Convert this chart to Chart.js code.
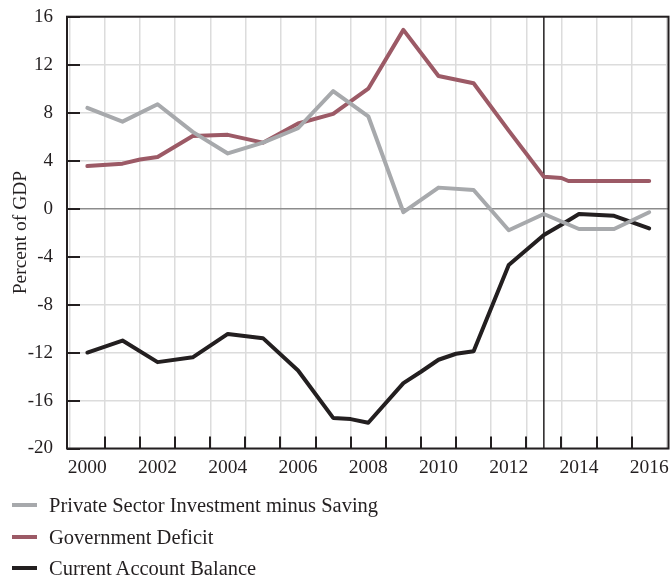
<!DOCTYPE html>
<html><head><meta charset="utf-8">
<script src="https://cdn.jsdelivr.net/npm/chart.js@4/dist/chart.umd.min.js"></script>
<style>
html,body{margin:0;padding:0;background:#fff;}
#wrap{position:relative;width:672px;height:577px;overflow:hidden;}
canvas{position:absolute;left:0;top:0;}
#legend{position:absolute;left:0;top:0;font-family:"Liberation Serif","Times New Roman",serif;font-size:20.5px;color:#231f20;}
.item{position:absolute;left:0;height:30px;display:flex;align-items:center;white-space:nowrap;}
.sw{width:25px;height:4px;margin-left:12px;margin-right:12px;}
</style></head><body>
<div id="wrap"><canvas id="c" width="672" height="577"></canvas><div id="legend"></div></div>
<script>
// x positions (mid-year points plus a few intermediate vertices)
const years = [2000.5, 2001.5, 2002.0, 2002.5, 2003.5, 2004.5, 2005.5, 2006.5, 2007.5, 2008.0, 2008.5,
               2009.5, 2010.0, 2010.5, 2011.0, 2011.5, 2012.5, 2013.5, 2014.0, 2014.2, 2014.5, 2015.5, 2016.5];
const privateSector = [8.4, 7.25, null, 8.7, 6.4, 4.6, 5.5, 6.7, 9.8, null, 7.7,
                       -0.3, null, 1.75, null, 1.55, -1.8, -0.45, null, null, -1.7, -1.7, -0.3];
const govDeficit = [3.55, 3.75, 4.1, 4.3, 6.05, 6.15, 5.5, 7.1, 7.9, null, 10.0,
                    14.9, null, 11.05, null, 10.45, 6.5, 2.65, 2.55, 2.3, 2.3, 2.3, 2.3];
const currentAccount = [-12.0, -11.0, null, -12.8, -12.4, -10.45, -10.8, -13.5, -17.45, -17.55, -17.85,
                        -14.55, -13.6, -12.6, -12.1, -11.9, -4.7, -2.2, -1.35, null, -0.45, -0.6, -1.65];
const seriesLabels = ['Private Sector Investment minus Saving', 'Government Deficit', 'Current Account Balance'];
const xTickLabels = ['2000', '2002', '2004', '2006', '2008', '2010', '2012', '2014', '2016'];
const yTicks = [-20, -16, -12, -8, -4, 0, 4, 8, 12, 16];
const markerYear = 2013.5;

const INK = '#231f20';
const colors = ['#a7a9ac', '#9c5a66', INK];
const FONT = '"Liberation Serif","Times New Roman",serif';

function pts(arr) {
  return years.map((x, i) => ({x: x, y: arr[i]})).filter(p => p.y !== null);
}

const framePlugin = {
  id: 'frame',
  beforeDatasetsDraw(chart) {
    const {ctx, chartArea: a, scales: {x}} = chart;
    const px = x.getPixelForValue(markerYear);
    ctx.save();
    ctx.strokeStyle = INK; ctx.lineWidth = 1.5;
    ctx.beginPath(); ctx.moveTo(px, a.top); ctx.lineTo(px, a.bottom); ctx.stroke();
    ctx.restore();
  },
  afterDatasetsDraw(chart) {
    const {ctx, chartArea: a, scales: {x, y}} = chart;
    ctx.save();
    ctx.strokeStyle = INK; ctx.lineWidth = 2;
    ctx.beginPath();
    for (let yr = 2001; yr <= 2016; yr++) {
      const px = Math.round(x.getPixelForValue(yr));
      ctx.moveTo(px, a.bottom); ctx.lineTo(px, a.bottom - 12);
    }
    yTicks.forEach(v => {
      const py = Math.round(y.getPixelForValue(v));
      ctx.moveTo(a.left, py); ctx.lineTo(a.left + 13, py);
    });
    ctx.stroke();
    ctx.strokeRect(a.left, a.top, a.right - a.left, a.bottom - a.top);
    ctx.restore();
  }
};

const chart = new Chart(document.getElementById('c'), {
  type: 'line',
  data: {
    datasets: [privateSector, govDeficit, currentAccount].map((arr, i) => ({
      label: seriesLabels[i],
      data: pts(arr),
      borderColor: colors[i],
      backgroundColor: colors[i],
      borderWidth: 4,
      pointRadius: 0,
      tension: 0,
      borderJoinStyle: 'round',
      borderCapStyle: 'round',
      fill: false
    }))
  },
  options: {
    responsive: false,
    devicePixelRatio: 1,
    animation: false,
    layout: {padding: {left: 0, right: 3.5, top: 16.7, bottom: 98.5}},
    plugins: {legend: {display: false}, tooltip: {enabled: false}},
    scales: {
      x: {
        type: 'linear',
        min: 1999.92, max: 2017.05,
        afterBuildTicks(scale) {
          const t = [];
          for (let yr = 2000; yr <= 2017; yr++) t.push({value: yr});
          scale.ticks = t;
        },
        afterFit(scale) { scale.height = 30; scale.paddingLeft = 0; scale.paddingRight = 0; },
        grid: {color: '#dcdcdc', lineWidth: 1.5, drawTicks: false},
        border: {display: false},
        ticks: {
          autoSkip: false, maxRotation: 0, minRotation: 0,
          padding: 8, labelOffset: 17.55,
          color: INK, font: {family: FONT, size: 19.5},
          callback: v => xTickLabels.includes(String(v)) ? String(v) : ''
        }
      },
      y: {
        min: -20, max: 16,
        afterFit(scale) { scale.width = 67; scale.paddingTop = 0; scale.paddingBottom = 0; },
        grid: {
          color: c => c.tick.value === 0 ? '#8c8c8c' : '#dcdcdc',
          lineWidth: 1.5, drawTicks: false
        },
        border: {display: false},
        ticks: {stepSize: 4, padding: 14, color: INK, font: {family: FONT, size: 19}},
        title: {display: true, text: 'Percent of GDP', color: INK,
                font: {family: FONT, size: 19.5}, padding: {top: 9, bottom: 0}}
      }
    }
  },
  plugins: [framePlugin]
});

const leg = document.getElementById('legend');
const rowCenters = [505, 537, 568];
chart.data.datasets.forEach((ds, i) => {
  const it = document.createElement('div');
  it.className = 'item';
  it.style.top = (rowCenters[i] - 15) + 'px';
  const sw = document.createElement('span');
  sw.className = 'sw'; sw.style.background = ds.borderColor;
  const tx = document.createElement('span');
  tx.textContent = ds.label;
  it.appendChild(sw); it.appendChild(tx);
  leg.appendChild(it);
});
</script>
</body></html>
